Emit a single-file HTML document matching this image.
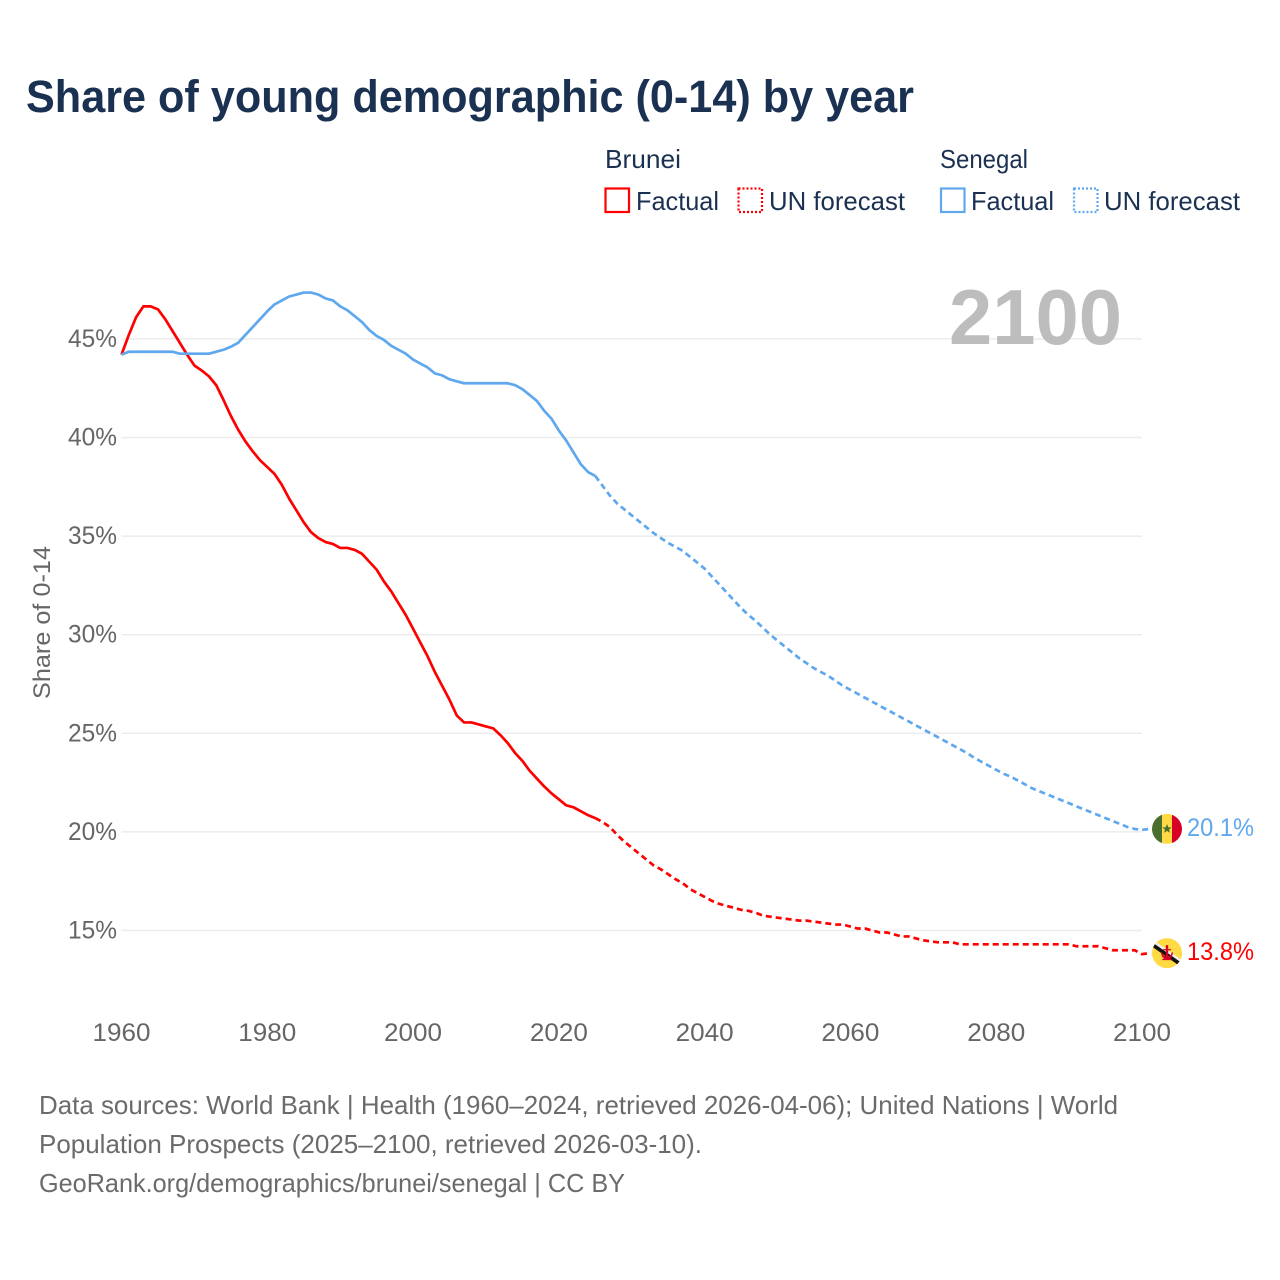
<!DOCTYPE html>
<html>
<head>
<meta charset="utf-8">
<style>
html,body{margin:0;padding:0;background:#fff}
svg{display:block}
text{font-family:"Liberation Sans",sans-serif}
</style>
</head>
<body>
<svg id="chart" width="1280" height="1280" viewBox="0 0 1280 1280" xmlns="http://www.w3.org/2000/svg">
<defs>
<clipPath id="flag-clip-sn"><circle cx="0" cy="0" r="15"/></clipPath>
<clipPath id="flag-clip-bn"><circle cx="0" cy="0" r="15"/></clipPath>
</defs>
<text x="26" y="112" font-size="45" font-weight="700" fill="#1a3151" textLength="888" lengthAdjust="spacingAndGlyphs">Share of young demographic (0-14) by year</text>

<g font-size="26" fill="#1a3151">
<text x="605" y="168" textLength="76" lengthAdjust="spacingAndGlyphs">Brunei</text>
<text x="940" y="168" textLength="88" lengthAdjust="spacingAndGlyphs">Senegal</text>
<rect x="605.5" y="188.5" width="23.5" height="23.5" fill="none" stroke="#ff0000" stroke-width="2.2"/>
<text x="636" y="210" textLength="83" lengthAdjust="spacingAndGlyphs">Factual</text>
<rect x="738.5" y="188.5" width="23.5" height="23.5" fill="none" stroke="#ff0000" stroke-width="2.2" stroke-dasharray="2 2"/>
<text x="769" y="210" textLength="136" lengthAdjust="spacingAndGlyphs">UN forecast</text>
<rect x="941" y="188.5" width="23.5" height="23.5" fill="none" stroke="#5fa8ee" stroke-width="2.2"/>
<text x="971" y="210" textLength="83" lengthAdjust="spacingAndGlyphs">Factual</text>
<rect x="1074" y="188.5" width="23.5" height="23.5" fill="none" stroke="#5fa8ee" stroke-width="2.2" stroke-dasharray="2 2"/>
<text x="1104" y="210" textLength="136" lengthAdjust="spacingAndGlyphs">UN forecast</text>
</g>

<g id="grid"></g>
<g id="yticks" font-size="25" fill="#666666" text-anchor="end"></g>
<g id="xticks" font-size="25" fill="#666666" text-anchor="middle"></g>
<text transform="translate(50,699) rotate(-90)" font-size="24" fill="#666666" textLength="153" lengthAdjust="spacingAndGlyphs">Share of 0-14</text>
<text x="949" y="344" font-size="78" font-weight="700" fill="#bdbdbd" textLength="173" lengthAdjust="spacingAndGlyphs">2100</text>
<g id="series"></g>

<g id="flag-sn">
<g clip-path="url(#flag-clip-sn)">
<rect x="-15" y="-15" width="10" height="30" fill="#496e2d"/>
<rect x="-5" y="-15" width="10" height="30" fill="#ffda44"/>
<rect x="5" y="-15" width="10" height="30" fill="#d80027"/>
<polygon points="0,-5 1.3,-1.6 4.8,-1.5 2,0.6 3,4 0,2 -3,4 -2,0.6 -4.8,-1.5 -1.3,-1.6" fill="#496e2d"/>
</g>
</g>
<g id="flag-bn">
<g clip-path="url(#flag-clip-bn)">
<rect x="-15" y="-15" width="30" height="30" fill="#ffda44"/>
<polygon points="-15,-14 -15,-10 15,11 15,7" fill="#f0f0f0"/>
<polygon points="-15,-11 -15,-6.5 15,14.5 15,10" fill="#111111"/>
<path d="M-1.2,-8 L1.2,-8 L1.2,-4 L4,-4 L4,-2.8 L1.2,-2.8 L1.2,3 L3.5,2.2 L5,-1 L6,-0.5 Q5.5,4 3,5 L5.5,7 L-5.5,7 L-3,5 Q-5.5,4 -6,-0.5 L-5,-1 L-3.5,2.2 L-1.2,3 L-1.2,-2.8 L-4,-2.8 L-4,-4 L-1.2,-4 Z" fill="#d80027"/>
</g>
</g>
<g id="end-labels" font-size="25"></g>

<g font-size="26" fill="#6b6b6b">
<text x="39" y="1114" textLength="1079" lengthAdjust="spacingAndGlyphs">Data sources: World Bank | Health (1960–2024, retrieved 2026-04-06); United Nations | World</text>
<text x="39" y="1153" textLength="663" lengthAdjust="spacingAndGlyphs">Population Prospects (2025–2100, retrieved 2026-03-10).</text>
<text x="39" y="1192" textLength="586" lengthAdjust="spacingAndGlyphs">GeoRank.org/demographics/brunei/senegal | CC BY</text>
</g>
</svg>
<script>
const yTickValues = [15, 20, 25, 30, 35, 40, 45];
const xTickValues = [1960, 1980, 2000, 2020, 2040, 2060, 2080, 2100];
const startYear = 1960;
const lastFactualYear = 2025;
const bruneiValues = [
44.2,45.2,46.1,46.65,46.65,46.5,46.0,45.4,44.8,44.2,
43.65,43.4,43.1,42.65,41.9,41.1,40.4,39.8,39.3,38.85,
38.5,38.15,37.6,36.9,36.3,35.7,35.2,34.9,34.7,34.6,
34.4,34.4,34.3,34.1,33.7,33.3,32.7,32.2,31.6,31.0,
30.3,29.6,28.9,28.1,27.4,26.7,25.9,25.55,25.55,25.45,
25.35,25.25,24.9,24.5,24.0,23.6,23.1,22.7,22.3,21.95,
21.65,21.35,21.25,21.05,20.85,20.7,20.5,20.25,19.85,19.5,
19.2,18.9,18.6,18.3,18.1,17.85,17.6,17.4,17.1,16.9,
16.7,16.5,16.35,16.25,16.15,16.05,16.0,15.9,15.75,15.7,
15.65,15.6,15.55,15.5,15.5,15.45,15.4,15.35,15.3,15.3,
15.2,15.1,15.1,15.0,14.9,14.9,14.8,14.7,14.7,14.6,
14.5,14.45,14.4,14.4,14.4,14.3,14.3,14.3,14.3,14.3,
14.3,14.3,14.3,14.3,14.3,14.3,14.3,14.3,14.3,14.3,
14.3,14.2,14.2,14.2,14.2,14.1,14.0,14.0,14.0,14.0,13.8
];
const senegalValues = [
44.2,44.35,44.35,44.35,44.35,44.35,44.35,44.35,44.25,44.25,
44.25,44.25,44.25,44.35,44.45,44.6,44.8,45.2,45.6,46.0,
46.4,46.75,46.95,47.15,47.25,47.35,47.35,47.25,47.05,46.95,
46.65,46.45,46.15,45.85,45.45,45.15,44.95,44.65,44.45,44.25,
43.95,43.75,43.55,43.25,43.15,42.95,42.85,42.75,42.75,42.75,
42.75,42.75,42.75,42.75,42.65,42.45,42.15,41.85,41.35,40.95,
40.35,39.85,39.25,38.65,38.25,38.05,37.55,37.05,36.65,36.35,
36.05,35.75,35.45,35.15,34.9,34.65,34.45,34.25,33.95,33.65,
33.35,32.95,32.55,32.15,31.75,31.35,31.0,30.7,30.35,30.0,
29.7,29.4,29.1,28.8,28.55,28.3,28.1,27.9,27.65,27.4,
27.2,27.0,26.8,26.6,26.4,26.2,26.0,25.8,25.6,25.4,
25.2,25.0,24.8,24.6,24.4,24.2,24.0,23.75,23.55,23.35,
23.15,22.95,22.8,22.6,22.4,22.2,22.05,21.9,21.75,21.6,
21.45,21.3,21.15,21.0,20.85,20.7,20.55,20.4,20.25,20.15,20.1
];

const NS = 'http://www.w3.org/2000/svg';
function xScale(year) { return 121.5 + (year - 1960) * (1142 - 121.5) / 140; }
function yScale(v) { return 930.5 - (v - 15) * 19.72; }
function make(tag, parent) {
  const el = document.createElementNS(NS, tag);
  document.getElementById(parent).appendChild(el);
  return el;
}
function pathFrom(values, from, to) {
  const pts = [];
  for (let yr = from; yr <= to; yr++) {
    pts.push(xScale(yr).toFixed(2) + ',' + yScale(values[yr - startYear]).toFixed(2));
  }
  return 'M' + pts.join('L');
}

yTickValues.forEach(function (v) {
  const line = make('line', 'grid');
  
  
  line.setAttribute('x1', 121.5);
  line.setAttribute('x2', 1142);
  line.setAttribute('y1', yScale(v));
  line.setAttribute('y2', yScale(v));
  line.setAttribute('stroke', '#ececec');
  line.setAttribute('stroke-width', '1.5');
  const t = make('text', 'yticks');
  
  
  t.setAttribute('x', 117);
  t.setAttribute('y', yScale(v) + 8);
  t.setAttribute('textLength', '49');
  t.setAttribute('lengthAdjust', 'spacingAndGlyphs');
  t.textContent = v + '%';
});

xTickValues.forEach(function (yr) {
  const t = make('text', 'xticks');
  
  
  t.setAttribute('x', xScale(yr));
  t.setAttribute('y', 1041);
  t.setAttribute('textLength', '58');
  t.setAttribute('lengthAdjust', 'spacingAndGlyphs');
  t.textContent = yr;
});

function drawSeries(key, values, color) {
  const endYear = startYear + values.length - 1;
  const factual = make('path', 'series');
  
  
  factual.setAttribute('d', pathFrom(values, startYear, lastFactualYear));
  factual.setAttribute('fill', 'none');
  factual.setAttribute('stroke', color);
  factual.setAttribute('stroke-width', '2.7');
  factual.setAttribute('stroke-linejoin', 'round');
  const forecast = make('path', 'series');
  
  
  const lastY = (yScale(values[values.length - 1]) - 1.2).toFixed(2);
  forecast.setAttribute('d', pathFrom(values, lastFactualYear, endYear) + 'L1151,' + lastY);
  forecast.setAttribute('fill', 'none');
  forecast.setAttribute('stroke', color);
  forecast.setAttribute('stroke-width', '2.7');
  forecast.setAttribute('stroke-dasharray', '6 4');
  const label = make('text', 'end-labels');
  
  
  label.setAttribute('x', 1187);
  label.setAttribute('y', yScale(values[values.length - 1]) + 6);
  label.setAttribute('fill', color);
  label.setAttribute('textLength', '67');
  label.setAttribute('lengthAdjust', 'spacingAndGlyphs');
  label.textContent = values[values.length - 1].toFixed(1) + '%';
}
drawSeries('brunei', bruneiValues, '#ff0000');
drawSeries('senegal', senegalValues, '#5fa8ee');

document.getElementById('flag-sn').setAttribute('transform', 'translate(1167,' + (yScale(senegalValues[senegalValues.length - 1]) - 1) + ')');
document.getElementById('flag-bn').setAttribute('transform', 'translate(1167,' + (yScale(bruneiValues[bruneiValues.length - 1]) - 1) + ')');
</script>
</body>
</html>
